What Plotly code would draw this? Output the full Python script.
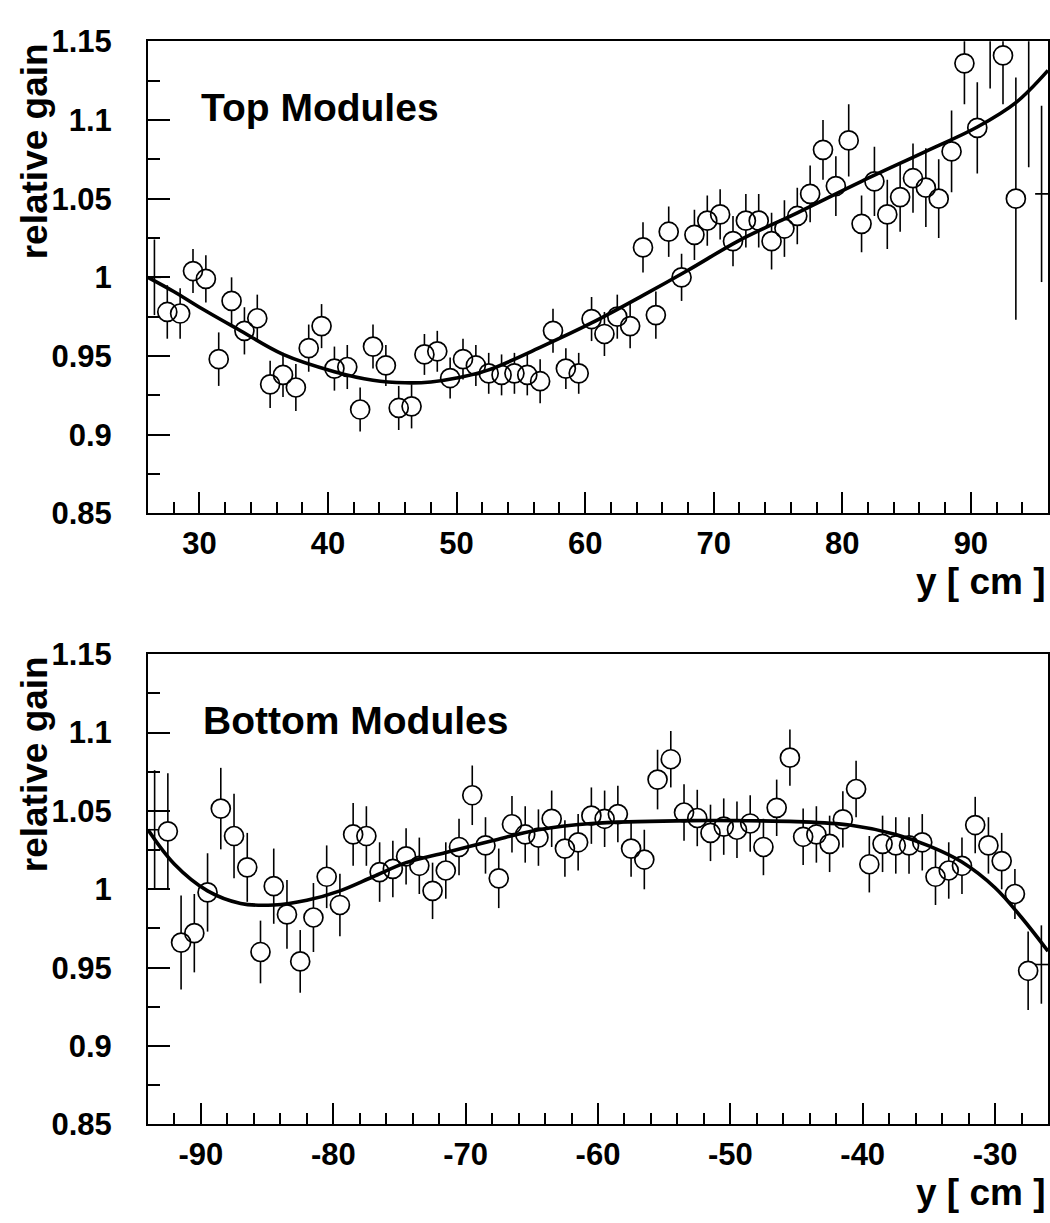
import plotly.graph_objects as go

# ---------------- data: relative gain vs. y position ----------------
# Top modules: bin centres [cm], measured gain, statistical error
top_pos = [26.5, 27.5, 28.5, 29.5, 30.5, 31.5, 32.5, 33.5, 34.5, 35.5,
           36.5, 37.5, 38.5, 39.5, 40.5, 41.5, 42.5, 43.5, 44.5, 45.5,
           46.5, 47.5, 48.5, 49.5, 50.5, 51.5, 52.5, 53.5, 54.5, 55.5,
           56.5, 57.5, 58.5, 59.5, 60.5, 61.5, 62.5, 63.5, 64.5, 65.5,
           66.5, 67.5, 68.5, 69.5, 70.5, 71.5, 72.5, 73.5, 74.5, 75.5,
           76.5, 77.5, 78.5, 79.5, 80.5, 81.5, 82.5, 83.5, 84.5, 85.5,
           86.5, 87.5, 88.5, 89.5, 90.5, 91.5, 92.5, 93.5, 94.5, 95.5]
top_gain = [1.000, 0.978, 0.977, 1.004, 0.999, 0.948, 0.985, 0.966, 0.974, 0.932,
            0.938, 0.930, 0.955, 0.969, 0.942, 0.943, 0.916, 0.956, 0.944, 0.917,
            0.918, 0.951, 0.953, 0.936, 0.948, 0.944, 0.939, 0.938, 0.939, 0.938,
            0.934, 0.966, 0.942, 0.939, 0.9735, 0.964, 0.975, 0.969, 1.019, 0.976,
            1.029, 1.000, 1.027, 1.036, 1.040, 1.023, 1.036, 1.036, 1.023, 1.031,
            1.039, 1.053, 1.081, 1.058, 1.087, 1.034, 1.061, 1.040, 1.051, 1.063,
            1.057, 1.050, 1.080, 1.136, 1.095, 1.158, 1.141, 1.050, 1.165, 1.053]
top_err = [0.024, 0.017, 0.016, 0.014, 0.015, 0.017, 0.015, 0.015, 0.015, 0.015,
           0.014, 0.015, 0.015, 0.014, 0.014, 0.014, 0.014, 0.014, 0.013, 0.014,
           0.014, 0.013, 0.013, 0.013, 0.013, 0.013, 0.013, 0.013, 0.013, 0.013,
           0.014, 0.014, 0.013, 0.013, 0.014, 0.014, 0.014, 0.014, 0.016, 0.015,
           0.016, 0.015, 0.016, 0.016, 0.016, 0.016, 0.017, 0.017, 0.018, 0.018,
           0.018, 0.018, 0.019, 0.019, 0.023, 0.018, 0.022, 0.022, 0.022, 0.022,
           0.025, 0.025, 0.026, 0.026, 0.029, 0.038, 0.031, 0.077, 0.095, 0.056]

# Bottom modules
bot_pos = [-93.5, -92.5, -91.5, -90.5, -89.5, -88.5, -87.5, -86.5, -85.5, -84.5,
           -83.5, -82.5, -81.5, -80.5, -79.5, -78.5, -77.5, -76.5, -75.5, -74.5,
           -73.5, -72.5, -71.5, -70.5, -69.5, -68.5, -67.5, -66.5, -65.5, -64.5,
           -63.5, -62.5, -61.5, -60.5, -59.5, -58.5, -57.5, -56.5, -55.5, -54.5,
           -53.5, -52.5, -51.5, -50.5, -49.5, -48.5, -47.5, -46.5, -45.5, -44.5,
           -43.5, -42.5, -41.5, -40.5, -39.5, -38.5, -37.5, -36.5, -35.5, -34.5,
           -33.5, -32.5, -31.5, -30.5, -29.5, -28.5, -27.5, -26.5]
bot_gain = [1.038, 1.037, 0.966, 0.972, 0.998, 1.0515, 1.034, 1.014, 0.960, 1.002,
            0.984, 0.954, 0.982, 1.008, 0.990, 1.035, 1.034, 1.011, 1.013, 1.021,
            1.015, 0.999, 1.012, 1.027, 1.060, 1.028, 1.007, 1.0415, 1.035, 1.033,
            1.045, 1.026, 1.030, 1.047, 1.045, 1.048, 1.026, 1.019, 1.070, 1.083,
            1.049, 1.0455, 1.036, 1.040, 1.038, 1.042, 1.027, 1.052, 1.084, 1.0335,
            1.035, 1.029, 1.0446, 1.064, 1.016, 1.029, 1.028, 1.028, 1.030, 1.008,
            1.012, 1.015, 1.041, 1.028, 1.018, 0.997, 0.948, 0.952]
bot_err = [0.038, 0.037, 0.030, 0.025, 0.025, 0.026, 0.027, 0.022, 0.020, 0.024,
           0.022, 0.020, 0.022, 0.020, 0.020, 0.020, 0.019, 0.019, 0.018, 0.018,
           0.018, 0.018, 0.018, 0.018, 0.019, 0.018, 0.019, 0.018, 0.018, 0.018,
           0.018, 0.018, 0.018, 0.018, 0.018, 0.018, 0.018, 0.019, 0.019, 0.018,
           0.018, 0.018, 0.018, 0.018, 0.018, 0.018, 0.018, 0.018, 0.018, 0.018,
           0.018, 0.018, 0.018, 0.018, 0.018, 0.018, 0.018, 0.018, 0.018, 0.018,
           0.018, 0.018, 0.018, 0.018, 0.018, 0.016, 0.025, 0.025]

# Polynomial fit curves, sampled along the drawn line
top_fit_pos = [26, 28, 30, 33, 36.5, 40.5, 43.5, 46, 48, 50, 52.5, 56.5, 60.5,
               64.5, 68, 72, 76.5, 81.5, 86.5, 90.5, 93.5, 96]
top_fit_gain = [1.000, 0.991, 0.981, 0.967, 0.951, 0.940, 0.9346, 0.933, 0.9335,
                0.936, 0.9412, 0.9555, 0.971, 0.9885, 1.0045, 1.0235, 1.041,
                1.061, 1.080, 1.0955, 1.111, 1.1315]
bot_fit_pos = [-94, -92, -89.5, -87, -84.5, -82, -79.5, -77, -74.5, -71.5, -68,
               -64.5, -60.5, -57, -53, -49.5, -45, -41, -37.5, -35, -32.5, -30,
               -28, -26]
bot_fit_gain = [1.038, 1.016, 0.999, 0.991, 0.990, 0.993, 0.999, 1.008, 1.017,
                1.0235, 1.031, 1.038, 1.042, 1.0432, 1.0438, 1.0438, 1.0432,
                1.041, 1.035, 1.0277, 1.0174, 1.001, 0.982, 0.9605]

# Axis ranges and tick labels
top_range = [26, 96]
bot_range = [-94, -26]
gain_range = [0.85, 1.15]
top_ticks = [30, 40, 50, 60, 70, 80, 90]
bot_ticks = [-90, -80, -70, -60, -50, -40, -30]
gain_ticks = [0.85, 0.90, 0.95, 1.00, 1.05, 1.10, 1.15]
gain_ticktext = ["0.85", "0.9", "0.95", "1", "1.05", "1.1", "1.15"]
panel_titles = ["Top Modules", "Bottom Modules"]

# ---------------- styling ----------------
W, H = 1050, 1223
FONT = "Liberation Sans, Arial, Helvetica, sans-serif"
BLACK = "black"
MARK = 19


def px_x(p):
    return p / W


def px_y(p):
    return 1 - p / H


def add_panel(fig, pos, gain, err, fit_pos, fit_gain, rng, xa, ya):
    # markers touching the frame edge are not drawn, only their error bars
    shown = [not (p - rng[0] < 1 or rng[1] - p < 1) for p in pos]
    in_pos = [p for p, s in zip(pos, shown) if s]
    in_gain = [g for g, s in zip(gain, shown) if s]
    # error bars (x half-width 0.5 cm, y statistical)
    fig.add_trace(go.Scatter(
        x=pos, y=gain, mode="markers", xaxis=xa, yaxis=ya,
        marker=dict(size=0, color=BLACK, opacity=0),
        error_y=dict(type="data", array=err, color=BLACK, thickness=1.6, width=0),
        error_x=dict(type="constant", value=0.5, color=BLACK, thickness=1.6, width=0),
        showlegend=False, hoverinfo="skip"))
    # white discs so the bars stop at the circle edge
    fig.add_trace(go.Scatter(
        x=in_pos, y=in_gain, mode="markers", xaxis=xa, yaxis=ya,
        marker=dict(symbol="circle", size=MARK, color="white",
                    line=dict(width=0)),
        showlegend=False, hoverinfo="skip"))
    # open circle outlines on top
    fig.add_trace(go.Scatter(
        x=in_pos, y=in_gain, mode="markers", xaxis=xa, yaxis=ya,
        marker=dict(symbol="circle-open", size=MARK, color=BLACK,
                    line=dict(width=1.7, color=BLACK)),
        showlegend=False))
    # fit curve
    fig.add_trace(go.Scatter(
        x=fit_pos, y=fit_gain, mode="lines", xaxis=xa, yaxis=ya,
        line=dict(color=BLACK, width=3.6, shape="spline", smoothing=1.0),
        showlegend=False, hoverinfo="skip"))


fig = go.Figure()
add_panel(fig, top_pos, top_gain, top_err, top_fit_pos, top_fit_gain,
          top_range, "x", "y")
add_panel(fig, bot_pos, bot_gain, bot_err, bot_fit_pos, bot_fit_gain,
          bot_range, "x2", "y2")

frame_x = [px_x(148), px_x(1048)]
top_dom = [px_y(511), px_y(25)]
bot_dom = [px_y(1140), px_y(656)]

tickfont = dict(family=FONT, size=31, color=BLACK, weight="bold")


def xaxis_cfg(rng, ticks, anchor):
    return dict(domain=frame_x, range=rng, anchor=anchor,
                tickmode="array", tickvals=ticks, ticktext=[str(t) for t in ticks],
                ticks="inside", ticklen=21, tickwidth=1.5, tickcolor=BLACK,
                minor=dict(ticks="inside", ticklen=11, tickwidth=1.5,
                           tickcolor=BLACK, tickmode="linear", tick0=0, dtick=2),
                showline=True, linewidth=2, linecolor=BLACK, mirror=True,
                showgrid=False, zeroline=False, tickfont=tickfont,
                ticklabelstandoff=1)


def yaxis_cfg(dom, anchor):
    return dict(domain=dom, range=gain_range, anchor=anchor,
                tickmode="array", tickvals=gain_ticks, ticktext=gain_ticktext,
                ticks="inside", ticklen=22, tickwidth=1.5, tickcolor=BLACK,
                minor=dict(ticks="inside", ticklen=12, tickwidth=1.5,
                           tickcolor=BLACK, tickmode="linear", tick0=0.85,
                           dtick=0.025),
                showline=True, linewidth=2, linecolor=BLACK, mirror=True,
                showgrid=False, zeroline=False, tickfont=tickfont,
                ticklabelstandoff=28)


fig.update_layout(
    width=W, height=H, margin=dict(l=0, r=0, t=0, b=0),
    paper_bgcolor="white", plot_bgcolor="white",
    xaxis=xaxis_cfg(top_range, top_ticks, "y"),
    yaxis=yaxis_cfg(top_dom, "x"),
    xaxis2=xaxis_cfg(bot_range, bot_ticks, "y2"),
    yaxis2=yaxis_cfg(bot_dom, "x2"),
)

label_font = dict(family=FONT, size=37, color=BLACK, weight="bold")
title_font = dict(family=FONT, size=39, color=BLACK, weight="bold")
annotations = []
for (xa, ya, rng, title) in [("x", "y", top_range, panel_titles[0]),
                             ("x2", "y2", bot_range, panel_titles[1])]:
    annotations.append(dict(text=title, xref=xa, yref=ya, x=rng[0] + 4.0, y=1.108,
                            xanchor="left", yanchor="middle", showarrow=False,
                            font=title_font))
    annotations.append(dict(text="relative gain", xref="paper", yref=ya + " domain",
                            x=px_x(34), y=1.0, xanchor="center", yanchor="top",
                            textangle=-90, showarrow=False, font=label_font))
    annotations.append(dict(text="y [ cm ]", xref=xa + " domain", yref=ya + " domain",
                            x=1.0, y=0.0, yshift=-68, xanchor="right",
                            yanchor="middle", showarrow=False, font=label_font))
fig.update_layout(annotations=annotations)

fig.write_html("out.html")
